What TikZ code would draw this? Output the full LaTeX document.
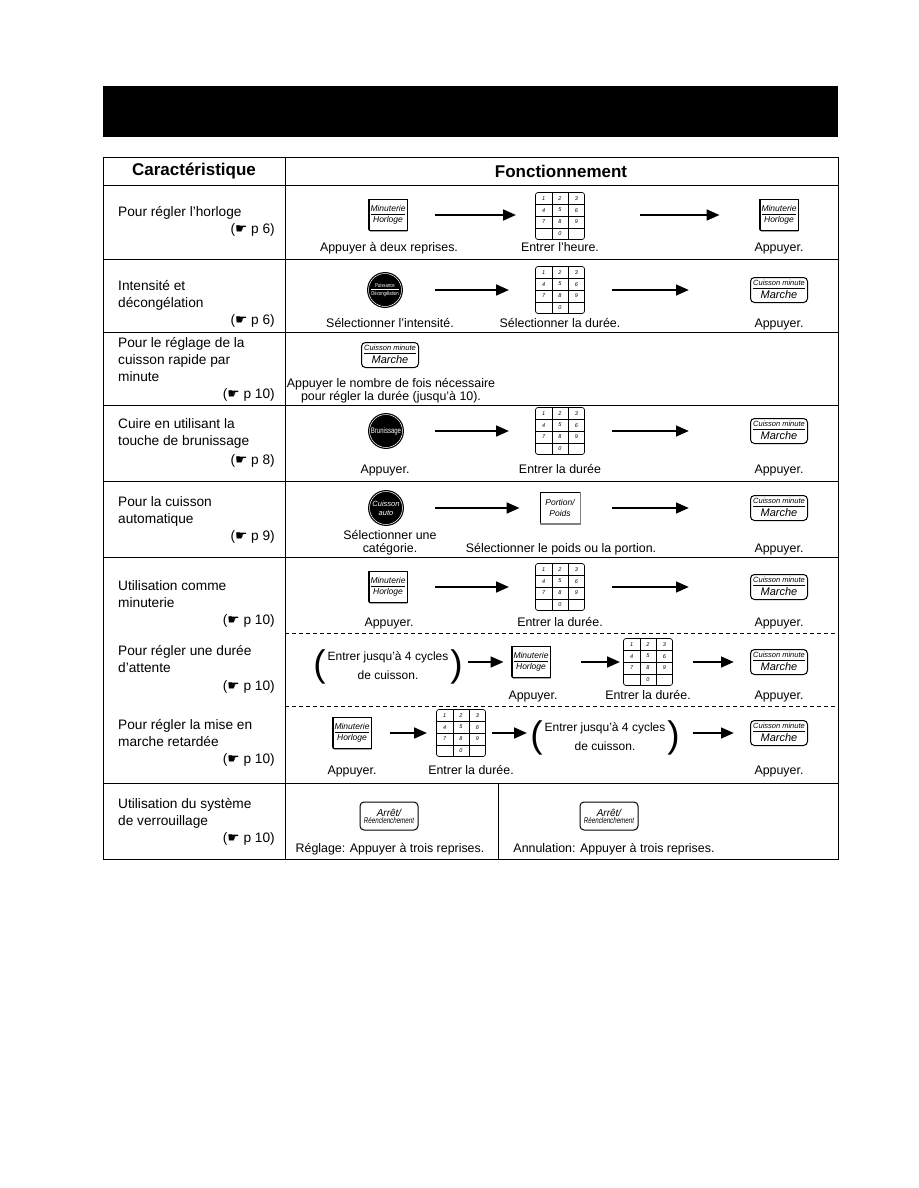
\documentclass[tikz,border=0pt]{standalone}
\usepackage{fontspec}
\setmainfont{Liberation Sans}
\newfontfamily\symfont{DejaVu Sans}
\newfontfamily\btnfont[FakeStretch=0.75]{Liberation Sans}
\usetikzlibrary{arrows.meta}

\newcommand{\pg}[1]{({\symfont\char"261B} p #1)}
\newcommand{\two}[3][9pt]{\begin{tabular}{@{}c@{}}#2\\[-0.5pt]\hline\rule{0pt}{#1}#3\end{tabular}}
\newcommand{\bigp}[1]{\raisebox{-6.6pt}{\fontsize{37}{37}\selectfont#1}}
\newcommand{\paren}[1]{\bigp(\begin{tabular}{@{\,}c@{\,}}#1\end{tabular}\bigp)}

\newcommand{\minut}[2]{%
	\node[minut] (#1) at (#2) {\two{Minuterie}{Horloge}};
	\draw[line width=1.2pt, rounded corners=2pt] (#1.north west) -- (#1.south west) -- (#1.south east);}
\newcommand{\runbtn}[2]{%
	\node[runbtn] (#1) at (#2) {\two[10pt]{\fontsize{7.5}{9}\selectfont Cuisson minute}{\fontsize{11}{12}\selectfont Marche}};}
\newcommand{\stopbtn}[2]{%
	\node[runbtn, minimum width=58pt, minimum height=28pt] (#1) at (#2) {\fontsize{10}{11}\selectfont Arrêt/\\[-2pt]\btnfont\fontsize{8.3}{10}\selectfont Réenclenchement};}
\newcommand{\keypad}[2]{%
	\node[pad] (#1) at (#2) {};
	\begin{scope}[shift={(#2)}, font=\fontsize{5.5}{5.5}\selectfont\itshape]
		\draw (-8.2,-23.5) -- (-8.2,23.5) (8.2,-23.5) -- (8.2,23.5);
		\foreach \r in {-11.75,0,11.75} \draw (-24.5,\r) -- (24.5,\r);
		\foreach \d [count=\i from 0] in {1,...,9}
			\node at ({(mod(\i,3)-1)*16.3},{(div(\i,3)-1.5)*11.75}) {\d};
		\node at (0,17.6) {0};
	\end{scope}}

\begin{document}
\begin{tikzpicture}[x=1pt, y=-1pt,
	rule/.style={line width=0.9pt},
	head/.style={font=\fontsize{17}{17}\selectfont\bfseries},
	feat/.style={anchor=base west, align=left, inner sep=0pt, font=\fontsize{13.7}{17}\selectfont},
	pref/.style={anchor=base east, inner sep=0pt, font=\fontsize{13.7}{17}\selectfont},
	lbl/.style={anchor=base, align=center, inner sep=0pt, font=\fontsize{12.4}{13}\selectfont},
	fwd/.style={-{Triangle[length=13pt,width=10.5pt]}, line width=2.8pt},
	minut/.style={draw, line width=0.6pt, minimum width=38pt, minimum height=31pt, inner sep=0pt, font=\fontsize{8.5}{10}\selectfont\itshape},
	runbtn/.style={draw, line width=1pt, rounded corners=4pt, minimum width=57pt, minimum height=25pt, inner sep=0pt, align=center, font=\fontsize{7}{9}\selectfont\itshape},
	knob/.style={circle, fill=black, draw=black, double=white, double distance=0.5pt, line width=1.2pt, minimum size=33pt, inner sep=0pt, text=white, align=center, font=\fontsize{7.5}{9}\selectfont\itshape},
	portion/.style={draw, line width=0.6pt, minimum width=40pt, minimum height=31pt, inner sep=0pt, align=center, font=\fontsize{8.5}{11}\selectfont\itshape},
	pad/.style={draw, line width=0.7pt, rounded corners=2.5pt, minimum width=49pt, minimum height=47pt, inner sep=0pt},
	brk/.style={font=\fontsize{12}{16}\selectfont, inner sep=0pt}]
	\useasboundingbox (0,0) rectangle (918,1188);
	\fill (103,86) rectangle (838,137);

	% table
	\draw[rule] (103,157) rectangle (838,859);
	\draw[rule] (285,157) -- (285,859) (498,783) -- (498,859);
	\foreach \y in {185,259,332,405,481,557,783} \draw[rule] (103,\y) -- (838,\y);
	\draw[dash pattern=on 4pt off 3pt] (285,633) -- (838,633) (285,706) -- (838,706);
	\node[head] (h1) at (194,171) {Caractéristique};
	\node[head] (h2) at (561,171) {Fonctionnement};

	% horloge
	\node[feat] (f1) at (118,216) {Pour régler l'horloge};
	\node[pref] (r1) at (275,233) {\pg{6}};
	\minut{a1}{388,215}
	\keypad{k1}{560,216}
	\minut{c1}{779,215}
	\draw[fwd, shorten <=28pt, shorten >=19pt] (a1) -- (k1.west |- a1.east);
	\draw[fwd, shorten <=55pt, shorten >=40pt] (k1.east |- c1.west) -- (c1);
	\node[lbl] (l1a) at (389,251) {Appuyer à deux reprises.};
	\node[lbl] (l1b) at (560,251) {Entrer l'heure.};
	\node[lbl] (l1c) at (779,251) {Appuyer.};

	% intensite
	\node[feat] (f2) at (118,307) {Intensité et\\décongélation};
	\node[pref] (r2) at (275,324) {\pg{6}};
	\node[knob, font=\btnfont\fontsize{5.7}{6}\selectfont] (a2) at (385,290) {\two[6pt]{Puissance}{Décongélation}};
	\keypad{k2}{560,290}
	\runbtn{c2}{779,290}
	\draw[fwd, shorten <=33pt, shorten >=26pt] (a2) -- (k2);
	\draw[fwd, shorten <=27pt, shorten >=61pt] (k2) -- (c2);
	\node[lbl] (l2a) at (390,327) {Sélectionner l'intensité.};
	\node[lbl] (l2b) at (560,327) {Sélectionner la durée.};
	\node[lbl] (l2c) at (779,327) {Appuyer.};

	% cuisson rapide
	\node[feat] (f3) at (118,381) {Pour le réglage de la\\cuisson rapide par\\minute};
	\node[pref] (r3) at (275,398) {\pg{10}};
	\runbtn{a3}{390,355}
	\node[lbl] (l3) at (391,400) {Appuyer le nombre de fois nécessaire\\pour régler la durée (jusqu'à 10).};

	% brunissage
	\node[feat] (f4) at (118,445) {Cuire en utilisant la\\touche de brunissage};
	\node[pref] (r4) at (275,464) {\pg{8}};
	\node[knob, font=\btnfont\fontsize{8}{9}\selectfont] (a4) at (386,431) {Brunissage};
	\keypad{k4}{560,431}
	\runbtn{c4}{779,431}
	\draw[fwd, shorten <=32pt, shorten >=26pt] (a4) -- (k4);
	\draw[fwd, shorten <=27pt, shorten >=61pt] (k4) -- (c4);
	\node[lbl] (l4a) at (385,473) {Appuyer.};
	\node[lbl] (l4b) at (560,473) {Entrer la durée};
	\node[lbl] (l4c) at (779,473) {Appuyer.};

	% cuisson auto
	\node[feat] (f5) at (118,523) {Pour la cuisson\\automatique};
	\node[pref] (r5) at (275,540) {\pg{9}};
	\node[knob] (a5) at (386,508) {Cuisson\\auto};
	\node[portion] (b5) at (560,508) {Portion/\\Poids};
	\draw[line width=1.4pt, gray] (b5.north east) -- (b5.south east) -- (b5.south west);
	\runbtn{c5}{779,508}
	\draw[fwd, shorten <=32pt, shorten >=20pt] (a5) -- (b5);
	\draw[fwd, shorten <=32pt, shorten >=61pt] (b5) -- (c5);
	\node[lbl] (l5a) at (390,552) {Sélectionner une\\catégorie.};
	\node[lbl] (l5b) at (561,552) {Sélectionner le poids ou la portion.};
	\node[lbl] (l5c) at (779,552) {Appuyer.};

	% minuterie
	\node[feat] (f6) at (118,607) {Utilisation comme\\minuterie};
	\node[pref] (r6) at (275,624) {\pg{10}};
	\minut{a6}{388,587}
	\keypad{k6}{560,587}
	\runbtn{c6}{779,587}
	\draw[fwd, shorten <=28pt, shorten >=26pt] (a6) -- (k6);
	\draw[fwd, shorten <=27pt, shorten >=61pt] (k6) -- (c6);
	\node[lbl] (l6a) at (389,626) {Appuyer.};
	\node[lbl] (l6b) at (560,626) {Entrer la durée.};
	\node[lbl] (l6c) at (779,626) {Appuyer.};

	% attente
	\node[feat] (f7) at (118,672) {Pour régler une durée\\d'attente};
	\node[pref] (r7) at (275,690) {\pg{10}};
	\node[brk] (p7) at (388,667) {\paren{Entrer jusqu'à 4 cycles\\[3pt]de cuisson.}};
	\minut{a7}{531,662}
	\keypad{k7}{648,662}
	\runbtn{c7}{779,662}
	\draw[fwd, shorten <=5pt, shorten >=8pt] (p7.east |- a7.west) -- (a7.west);
	\draw[fwd, shorten <=31pt, shorten >=3pt] (a7) -- (k7);
	\draw[fwd, shorten <=20pt, shorten >=16pt] (k7) -- (c7);
	\node[lbl] (l7a) at (533,699) {Appuyer.};
	\node[lbl] (l7b) at (648,699) {Entrer la durée.};
	\node[lbl] (l7c) at (779,699) {Appuyer.};

	% mise en marche retardee
	\node[feat] (f8) at (118,746) {Pour régler la mise en\\marche retardée};
	\node[pref] (r8) at (275,763) {\pg{10}};
	\minut{a8}{352,733}
	\keypad{k8}{461,733}
	\node[brk] (p8) at (605,738) {\paren{Entrer jusqu'à 4 cycles\\[3pt]de cuisson.}};
	\runbtn{c8}{779,733}
	\draw[fwd, shorten <=19pt, shorten >=9pt] (a8) -- (k8);
	\draw[fwd, shorten <=6pt, shorten >=3pt] (k8.east) -- (p8.west |- k8.east);
	\draw[fwd, shorten <=13pt, shorten >=16pt] (p8.east |- c8.west) -- (c8.west);
	\node[lbl] (l8a) at (352,774) {Appuyer.};
	\node[lbl] (l8b) at (471,774) {Entrer la durée.};
	\node[lbl] (l8c) at (779,774) {Appuyer.};

	% verrouillage
	\node[feat] (f9) at (118,825) {Utilisation du système\\de verrouillage};
	\node[pref] (r9) at (275,842) {\pg{10}};
	\stopbtn{a9}{389,816}
	\stopbtn{b9}{609,816}
	\node[lbl] (l9a) at (390,852) {Réglage: Appuyer à trois reprises.};
	\node[lbl] (l9b) at (614,852) {Annulation: Appuyer à trois reprises.};
\end{tikzpicture}
\end{document}
